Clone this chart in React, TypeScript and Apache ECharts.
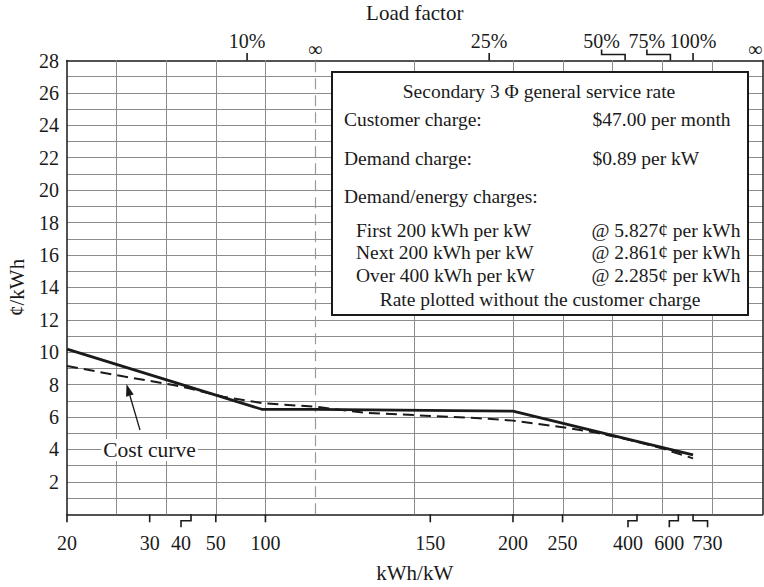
import { useEffect, useRef } from "react";
import * as echarts from "echarts";

// ---------------- data ----------------
// kWh/kW positions; "L" = left (1/x) section running 20 -> infinity,
// "R" = right section (1/x magnified x10) ending at infinity on the right edge.
const rateLeftKwh = [20, 93, Infinity];
const rateLeftCents = [10.19, 6.48, 6.47];
const rateRightKwh = [200, 400, 730];
const rateRightCents = [6.36, 4.5, 3.66];

const costLeftKwh = [20, 26, 35, 40, 54, 96, Infinity];
const costLeftCents = [9.15, 8.5, 7.98, 7.74, 7.26, 6.85, 6.64];
const costRightKwh = [125, 150, 176, 200, 250, 300, 350, 400, 500, 730];
const costRightCents = [6.27, 6.07, 5.93, 5.78, 5.37, 5.04, 4.73, 4.48, 4.07, 3.45];

const leftGridKwh = [25, 30, 35, 40, 45, 50, 55, 60, 65, 70, 75, 80, 85, 100];
const rightGridKwh = [150, 200, 250, 300, 350, 400, 450, 500, 550, 600, 650, 730];

const bottomLabels = ["20", "30", "40", "50", "100", "150", "200", "250", "400", "600", "730"];
const bottomKwh = [20, 30, 40, 50, 100, 150, 200, 250, 400, 600, 730];
const bottomSeg = ["L", "L", "L", "L", "L", "R", "R", "R", "R", "R", "R"];

const topLabels = ["10%", "∞", "25%", "50%", "75%", "100%", "∞"];
const topKwh = [73, Infinity, 182.5, 365, 547.5, 730, Infinity];
const topSeg = ["L", "L", "R", "R", "R", "R", "R"];

const yTickLabels = [2, 4, 6, 8, 10, 12, 14, 16, 18, 20, 22, 24, 26, 28];

const boxTitle = "Secondary 3 Φ general service rate";
const boxLeftRows = ["Customer charge:", "Demand charge:", "Demand/energy charges:"];
const boxRightRows = ["$47.00 per month", "$0.89 per kW", ""];
const tierLeft = ["First 200 kWh per kW", "Next 200 kWh per kW", "Over 400 kWh per kW"];
const tierRight = ["@ 5.827¢ per kWh", "@ 2.861¢ per kWh", "@ 2.285¢ per kWh"];
const boxFooter = "Rate plotted without the customer charge";

// ---------------- scale / style ----------------
const SPLIT_C = 1 / 20;
const RIGHT_END_C = 0.1399;
const RIGHT_GAIN = 10;
const AXIS_MAX_C = 0.1402;
const toC = (kwh: number, seg: string) =>
  seg === "L" ? SPLIT_C - 1 / kwh : RIGHT_END_C - RIGHT_GAIN / kwh;

const FONT = "'Liberation Serif', 'Times New Roman', serif";
const GRID_COLOR = "#8c8c8c";
const INK = "#1a1a1a";

// style offsets for bracketed labels (px)
const bottomBracket = [0, 0, -10, 0, 0, 0, 0, 0, -9, -9, 14.5];
const topBracket = [0, 0, 0, -23.5, -23.5, 0, -6];
const topHasTick = [true, false, true, true, true, true, false];

export default function App() {
  const ref = useRef<HTMLDivElement>(null);

  useEffect(() => {
    if (!ref.current) return;
    const chart = echarts.init(ref.current, undefined, { renderer: "svg" });

    const rateData = [
      ...rateLeftKwh.map((k, i) => [toC(k, "L"), rateLeftCents[i]]),
      ...rateRightKwh.map((k, i) => [toC(k, "R"), rateRightCents[i]]),
    ];
    const costData = [
      ...costLeftKwh.map((k, i) => [toC(k, "L"), costLeftCents[i]]),
      ...costRightKwh.map((k, i) => [toC(k, "R"), costRightCents[i]]),
    ];
    const gridC = [
      ...leftGridKwh.map((k) => toC(k, "L")),
      ...rightGridKwh.map((k) => toC(k, "R")),
    ];

    const Z = 100;
    const textStyle = (size: number) => ({
      fontFamily: FONT,
      fontSize: size,
      fill: INK,
    });

    const BOX_X = 332, BOX_Y = 72, BOX_W = 416, BOX_H = 243;
    const graphics: any[] = [
      {
        type: "rect", z: Z,
        shape: { x: BOX_X, y: BOX_Y, width: BOX_W, height: BOX_H },
        style: { fill: "#fff", stroke: INK, lineWidth: 2 },
      },
      {
        type: "text", z: Z + 1, x: 539, y: 91,
        style: { ...textStyle(19.5), text: boxTitle, align: "center", verticalAlign: "middle" },
      },
      {
        type: "text", z: Z + 1, x: 540, y: 299.5,
        style: { ...textStyle(19.5), text: boxFooter, align: "center", verticalAlign: "middle" },
      },
    ];
    const rowY = [119.5, 158.5, 196.5];
    boxLeftRows.forEach((t, i) => {
      graphics.push({
        type: "text", z: Z + 1, x: 344, y: rowY[i],
        style: { ...textStyle(19.5), text: t, align: "left", verticalAlign: "middle" },
      });
      if (boxRightRows[i])
        graphics.push({
          type: "text", z: Z + 1, x: 592.5, y: rowY[i],
          style: { ...textStyle(19.5), text: boxRightRows[i], align: "left", verticalAlign: "middle" },
        });
    });
    const tierY = [230, 252.5, 275];
    tierLeft.forEach((t, i) => {
      graphics.push({
        type: "text", z: Z + 1, x: 356, y: tierY[i],
        style: { ...textStyle(19.5), text: t, align: "left", verticalAlign: "middle" },
      });
      graphics.push({
        type: "text", z: Z + 1, x: 591.5, y: tierY[i],
        style: { ...textStyle(19.5), text: tierRight[i], align: "left", verticalAlign: "middle" },
      });
    });

    // arrow for "Cost curve"
    const tip = [126.5, 384];
    const tail = [140, 430];
    const dx = tip[0] - tail[0], dy = tip[1] - tail[1];
    const len = Math.hypot(dx, dy);
    const ux = dx / len, uy = dy / len;
    const base = [tip[0] - 12 * ux, tip[1] - 12 * uy];
    const nx = -uy, ny = ux;

    graphics.push(
      {
        type: "text", z: Z, x: 149.5, y: 450,
        style: {
          text: "Cost curve", fontFamily: FONT, fontSize: 21.5, fill: INK,
          align: "center", verticalAlign: "middle", backgroundColor: "#fff", padding: [0, 2],
        },
      },
      {
        type: "line", z: Z,
        shape: { x1: tail[0], y1: tail[1], x2: base[0], y2: base[1] },
        style: { stroke: INK, lineWidth: 1.3 },
      },
      {
        type: "polygon", z: Z,
        shape: {
          points: [
            tip,
            [base[0] + 4 * nx, base[1] + 4 * ny],
            [base[0] - 4 * nx, base[1] - 4 * ny],
          ],
        },
        style: { fill: INK },
      }
    );

    const option: any = {
      animation: false,
      backgroundColor: "#fff",
      grid: {
        left: 67, top: 60.5, width: 695.5, height: 453.8,
        containLabel: false, outerBoundsMode: "none",
      },
      xAxis: [
        {
          type: "value", min: 0, max: AXIS_MAX_C, position: "bottom",
          axisLine: { show: true, onZero: false, lineStyle: { color: INK, width: 1.5 } },
          axisTick: { show: false }, axisLabel: { show: false }, splitLine: { show: false },
          name: "kWh/kW", nameLocation: "middle", nameGap: 48,
          nameTextStyle: { fontFamily: FONT, fontSize: 21, color: INK },
        },
        {
          type: "value", min: 0, max: AXIS_MAX_C, position: "top",
          axisLine: { show: true, onZero: false, lineStyle: { color: INK, width: 1.5 } },
          axisTick: { show: false }, axisLabel: { show: false }, splitLine: { show: false },
          name: "Load factor", nameLocation: "middle", nameGap: 37,
          nameTextStyle: { fontFamily: FONT, fontSize: 21, color: INK },
        },
      ],
      yAxis: [
        {
          type: "value", min: 0, max: 28, interval: 1, position: "left",
          axisLine: { show: true, onZero: false, lineStyle: { color: INK, width: 1.5 } },
          axisTick: { show: false },
          axisLabel: {
            formatter: (v: number) => (yTickLabels.includes(v) ? String(v) : ""),
            fontFamily: FONT, fontSize: 20, color: INK, margin: 8,
          },
          splitLine: {
            show: true, showMinLine: false, showMaxLine: false,
            lineStyle: { color: GRID_COLOR, width: 1 },
          },
          name: "¢/kWh", nameLocation: "middle", nameGap: 40,
          nameTextStyle: { fontFamily: FONT, fontSize: 21, color: INK },
        },
        {
          type: "value", min: 0, max: 28, position: "right",
          axisLine: { show: true, onZero: false, lineStyle: { color: INK, width: 1.5 } },
          axisTick: { show: false }, axisLabel: { show: false }, splitLine: { show: false },
        },
      ],
      series: [
        {
          type: "line", data: [], z: 1, silent: true,
          markLine: {
            silent: true, symbol: ["none", "none"], label: { show: false },
            lineStyle: { color: GRID_COLOR, width: 1, type: "solid" },
            emphasis: { disabled: true },
            data: gridC.map((c) => ({ xAxis: c })),
          },
        },
        {
          type: "line", data: [], z: 1, silent: true,
          markLine: {
            silent: true, symbol: ["none", "none"], label: { show: false },
            lineStyle: { color: "#9a9a9a", width: 1.2, type: [11, 6] },
            emphasis: { disabled: true },
            data: [{ xAxis: toC(Infinity, "L") }],
          },
        },
        {
          type: "line", data: rateData, showSymbol: false, z: 5, silent: true,
          lineStyle: { color: INK, width: 2.8 },
        },
        {
          type: "line", data: costData, showSymbol: false, z: 5, silent: true,
          lineStyle: { color: INK, width: 2, type: [11, 6] },
        },
        {
          type: "custom", clip: false, silent: true, z: 6,
          data: bottomKwh.map((k, i) => [toC(k, bottomSeg[i]), 0]),
          encode: { x: 0, y: 1 },
          renderItem: (params: any, api: any) => {
            const i = params.dataIndex;
            const p = api.coord([api.value(0), 0]);
            const x = p[0], y = p[1];
            const off = bottomBracket[i];
            const pts = off === 0
              ? [[x, y], [x, y + 8]]
              : [[x, y], [x, y + 6.5], [x + off, y + 6.5], [x + off, y + 13]];
            return {
              type: "group",
              children: [
                { type: "polyline", shape: { points: pts }, style: { stroke: INK, lineWidth: 1.6, fill: null } },
                {
                  type: "text", x: x + off, y: y + 29,
                  style: { text: bottomLabels[i], fontFamily: FONT, fontSize: 20, fill: INK, align: "center", verticalAlign: "middle" },
                },
              ],
            };
          },
        },
        {
          type: "custom", clip: false, silent: true, z: 6,
          data: topKwh.map((k, i) => [toC(k, topSeg[i]), 28]),
          encode: { x: 0, y: 1 },
          renderItem: (params: any, api: any) => {
            const i = params.dataIndex;
            const p = api.coord([api.value(0), 28]);
            const x = p[0], y = p[1];
            const off = topBracket[i];
            const children: any[] = [];
            if (topHasTick[i]) {
              const pts = off === 0
                ? [[x, y], [x, y - 7.5]]
                : [[x, y], [x, y - 6], [x + off, y - 6], [x + off, y - 11]];
              children.push({ type: "polyline", shape: { points: pts }, style: { stroke: INK, lineWidth: 1.6, fill: null } });
            }
            const isInf = topLabels[i] === "∞";
            children.push({
              type: "text", x: x + off, y: isInf ? y - 12 : y - 19.5,
              style: { text: topLabels[i], fontFamily: FONT, fontSize: 20, fill: INK, align: "center", verticalAlign: "middle" },
            });
            return { type: "group", children };
          },
        },
      ],
      graphic: graphics,
    };

    chart.setOption(option);
    return () => chart.dispose();
  }, []);

  return (
    <div
      ref={ref}
      style={{ position: "fixed", left: 0, top: 0, width: 764, height: 587, background: "#fff" }}
    />
  );
}
